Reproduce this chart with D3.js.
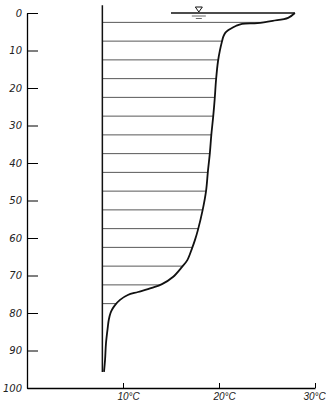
<!DOCTYPE html>
<html>
<head>
<meta charset="utf-8">
<script src="https://cdn.jsdelivr.net/npm/d3@7"></script>
<style>
  body { margin: 0; background: #fff; }
  svg { display: block; }
</style>
</head>
<body>
<div id="chart"></div>
<script>
// temperature profile, depth (m) -> temperature (°C)
const profileDepth = [0, 1.3, 2.1, 2.7, 2.9, 3.4, 4.0, 4.6, 5.3, 6.3, 7.7, 9.9, 12.8, 17.6, 23.0, 27.5, 32.5, 37.3,
    42.1, 47.5, 52.5, 57.9, 60.5, 62.7, 65.9, 67.7, 70.4, 72.3, 73.3, 74.4, 75.2, 76.5, 77.9,
    79.0, 80.0, 81.8, 83.7, 88.0, 92.5, 95.7];
const profileTemp = [27.9, 27.2, 25.6, 24.0, 22.4, 21.8, 21.35, 20.95, 20.65, 20.45, 20.3, 20.1, 19.9, 19.7, 19.55, 19.4, 19.2, 19.05,
    18.85, 18.65, 18.3, 17.8, 17.5, 17.2, 16.7, 16.15, 15.2, 14.06, 13.0, 11.56, 10.5, 9.69, 9.17,
    8.88, 8.7, 8.52, 8.42, 8.23, 8.13, 8.02];

// reference line of the hatching and its extent
const baseTemp = 7.85;
const baseTop = -2.1;
const baseBottom = 95.7;
const hatchDepths = [2.5, 7.5, 12.5, 17.5, 22.5, 27.5, 32.5, 37.5, 42.5, 47.5, 52.5, 57.5, 62.5, 67.5, 72.5, 77.5];

// water surface
const surfaceFrom = 15.0;
const markerTemp = 17.9;

const depthTicks = [0, 10, 20, 30, 40, 50, 60, 70, 80, 90, 100];
const tempTicks = [10, 20, 30];

const W = 326, H = 404;
const x = d3.scaleLinear().domain([0, 30]).range([27, 315]);
const y = d3.scaleLinear().domain([0, 100]).range([13, 388]);

const svg = d3.select("#chart").append("svg")
    .attr("width", W)
    .attr("height", H);

const profile = profileDepth.map((d, i) => ({ depth: d, temp: profileTemp[i] }));
const smooth = d3.curveCatmullRom.alpha(0.5);

// clip region between base line and curve
const area = d3.area()
    .curve(smooth)
    .y(d => y(d.depth))
    .x0(x(baseTemp))
    .x1(d => x(d.temp));

svg.append("clipPath")
    .attr("id", "inside")
    .append("path")
    .attr("d", area(profile));

svg.append("g")
    .attr("clip-path", "url(#inside)")
    .selectAll("line")
    .data(hatchDepths)
    .enter()
    .append("line")
    .attr("x1", x(baseTemp))
    .attr("x2", x(30))
    .attr("y1", d => y(d))
    .attr("y2", d => y(d))
    .attr("stroke", "#3a3a3a")
    .attr("stroke-width", 0.85);

// base line
svg.append("line")
    .attr("x1", x(baseTemp))
    .attr("x2", x(baseTemp))
    .attr("y1", y(baseTop))
    .attr("y2", y(baseBottom))
    .attr("stroke", "#111")
    .attr("stroke-width", 1.5);

// profile curve
const line = d3.line()
    .curve(smooth)
    .x(d => x(d.temp))
    .y(d => y(d.depth));

svg.append("path")
    .datum(profile)
    .attr("d", line)
    .attr("fill", "none")
    .attr("stroke", "#111")
    .attr("stroke-width", 1.8);

// water surface line
svg.append("line")
    .attr("x1", x(surfaceFrom))
    .attr("x2", x(profileTemp[0]))
    .attr("y1", y(0))
    .attr("y2", y(0))
    .attr("stroke", "#111")
    .attr("stroke-width", 1.3);

// water level marker
const mx = x(markerTemp), my = y(0);
svg.append("path")
    .attr("d", `M${mx - 3.5},${my - 6}L${mx + 3.5},${my - 6}L${mx},${my - 1}Z`)
    .attr("fill", "none")
    .attr("stroke", "#111")
    .attr("stroke-width", 1);
svg.append("line")
    .attr("x1", mx - 7).attr("x2", mx + 7)
    .attr("y1", my + 3).attr("y2", my + 3)
    .attr("stroke", "#444").attr("stroke-width", 0.8);
svg.append("line")
    .attr("x1", mx - 3).attr("x2", mx + 3)
    .attr("y1", my + 5.5).attr("y2", my + 5.5)
    .attr("stroke", "#444").attr("stroke-width", 0.8);

// axes
const yAxis = d3.axisLeft(y)
    .tickValues(depthTicks)
    .tickSizeInner(-11)
    .tickSizeOuter(0)
    .tickPadding(5)
    .tickFormat(d3.format("d"));

svg.append("g")
    .attr("transform", `translate(${x(0)},0)`)
    .call(yAxis)
    .call(g => g.select(".domain").attr("stroke-width", 1.3))
    .call(g => g.selectAll(".tick line").attr("stroke-width", 1))
    .selectAll("text")
    .style("font-family", "DejaVu Sans")
    .style("font-style", "italic")
    .style("font-size", "10px")
    .attr("fill", "#222");

const xAxis = d3.axisBottom(x)
    .tickValues(tempTicks)
    .tickSizeInner(-5)
    .tickSizeOuter(0)
    .tickPadding(5)
    .tickFormat(d => d + "°C");

svg.append("g")
    .attr("transform", `translate(0,${y(100)})`)
    .call(xAxis)
    .call(g => g.select(".domain").attr("stroke-width", 1.3))
    .selectAll("text")
    .attr("text-anchor", "start")
    .attr("dx", d => d === 30 ? -12 : -6)
    .style("font-family", "Liberation Sans")
    .style("font-style", "italic")
    .style("font-size", "10px")
    .attr("fill", "#222");
</script>
</body>
</html>
